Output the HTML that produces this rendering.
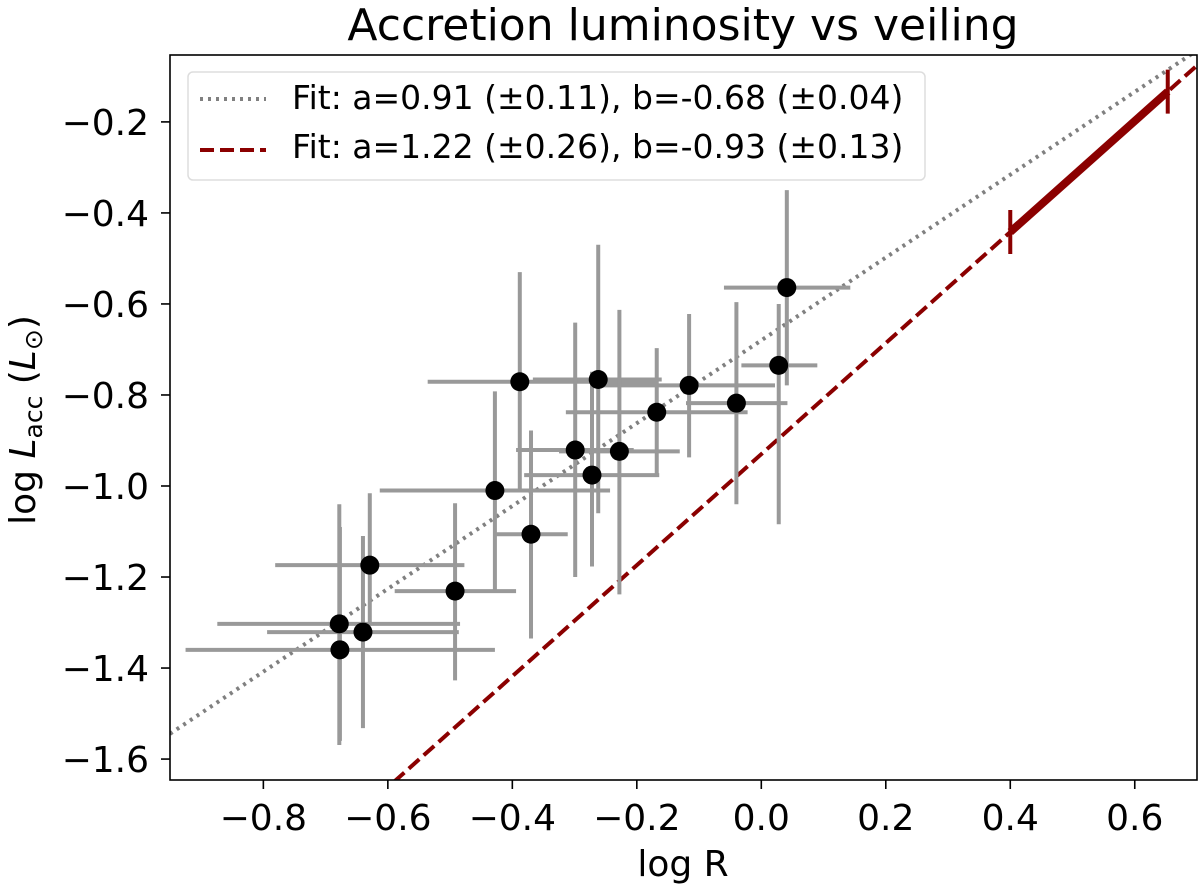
<!DOCTYPE html>
<html><head><meta charset="utf-8"><style>
html,body{margin:0;padding:0;width:1200px;height:896px;overflow:hidden;background:#fff;font-family:"DejaVu Sans","Liberation Sans",sans-serif}
svg{display:block}
</style></head><body>
<svg id="chart" width="1200" height="896" xmlns="http://www.w3.org/2000/svg">
<text x="683" y="40" font-size="44" text-anchor="middle">Accretion luminosity vs veiling</text>
<g id="plot"></g>
<rect x="170" y="55" width="1027" height="725" fill="none" stroke="#000" stroke-width="1.6"/>
<text x="683" y="876" font-size="36" text-anchor="middle">log R</text>
<text transform="translate(35,420) rotate(-90)" font-size="36" text-anchor="middle">log <tspan font-style="italic">L</tspan><tspan font-size="25" dy="7">acc</tspan><tspan dy="-7"> (</tspan><tspan font-style="italic">L</tspan><tspan font-size="25" dy="7">⊙</tspan><tspan dy="-7">)</tspan></text>
<g>
<rect x="188" y="72" width="737" height="108" rx="5" fill="#fff" fill-opacity="0.85" stroke="#ddd" stroke-width="1.5"/>
<line x1="200" y1="99" x2="266" y2="99" stroke="#808080" stroke-width="4" stroke-dasharray="3,5"/>
<text x="292" y="109" font-size="33">Fit: a=0.91 (±0.11), b=-0.68 (±0.04)</text>
<line x1="200" y1="150" x2="266" y2="150" stroke="#8b0000" stroke-width="4" stroke-dasharray="14,6"/>
<text x="292" y="158" font-size="33">Fit: a=1.22 (±0.26), b=-0.93 (±0.13)</text>
</g>
</svg>
<script>
const xs=[0.041,0.028,-0.040,-0.116,-0.168,-0.262,-0.388,-0.299,-0.272,-0.228,-0.428,-0.370,-0.492,-0.629,-0.678,-0.640,-0.677];
const ys=[-0.564,-0.735,-0.818,-0.779,-0.838,-0.766,-0.771,-0.921,-0.976,-0.924,-1.010,-1.106,-1.231,-1.174,-1.303,-1.321,-1.360];
const xlo=[-0.060,-0.032,-0.121,-0.261,-0.314,-0.367,-0.536,-0.394,-0.381,-0.325,-0.613,-0.426,-0.589,-0.781,-0.874,-0.794,-0.925];
const xhi=[0.143,0.090,0.042,0.022,-0.022,-0.160,-0.166,-0.205,-0.164,-0.131,-0.243,-0.311,-0.394,-0.477,-0.484,-0.486,-0.428];
const ylo=[-0.779,-1.084,-1.04,-0.937,-0.976,-1.06,-1.01,-1.20,-1.177,-1.238,-1.229,-1.335,-1.427,-1.302,-1.569,-1.532,-1.56];
const yhi=[-0.35,-0.60,-0.596,-0.622,-0.697,-0.47,-0.53,-0.641,-0.749,-0.613,-0.792,-0.878,-1.038,-1.016,-1.04,-1.11,-1.09];
const xticks=[-0.8,-0.6,-0.4,-0.2,0.0,0.2,0.4,0.6];
const xtickLabels=["−0.8","−0.6","−0.4","−0.2","0.0","0.2","0.4","0.6"];
const yticks=[-0.2,-0.4,-0.6,-0.8,-1.0,-1.2,-1.4,-1.6];
const ytickLabels=["−0.2","−0.4","−0.6","−0.8","−1.0","−1.2","−1.4","−1.6"];
const fitDotted=[0.91,-0.68];
const fitDashed=[1.22,-0.93];
const segX=[0.40,0.653];
const XMIN=-0.95,XMAX=0.70,YMIN=-1.646,YMAX=-0.053;
const L=170,R=1197,T=55,B=780;
const sx=v=>L+(v-XMIN)/(XMAX-XMIN)*(R-L);
const sy=v=>B-(v-YMIN)/(YMAX-YMIN)*(B-T);
const NS="http://www.w3.org/2000/svg";
const svg=document.getElementById('chart');
const g=document.getElementById('plot');
function mk(tag,at,parent){const e=document.createElementNS(NS,tag);for(const k in at)e.setAttribute(k,at[k]);(parent||g).appendChild(e);return e;}
const defs=mk('defs',{});const cp=mk('clipPath',{id:'clip'},defs);mk('rect',{x:L,y:T,width:R-L,height:B-T},cp);
const inner=mk('g',{'clip-path':'url(#clip)'});
xticks.forEach((v,i)=>{
 const t=mk('line',{x1:sx(v),x2:sx(v),y1:B,y2:B+9,stroke:'#000','stroke-width':1.6},svg);
 
 
 const l=mk('text',{x:sx(v),y:830,'font-size':36,'text-anchor':'middle'},svg);l.textContent=xtickLabels[i];
 
 
});
yticks.forEach((v,i)=>{
 const t=mk('line',{x1:L-9,x2:L,y1:sy(v),y2:sy(v),stroke:'#000','stroke-width':1.6},svg);
 
 
 const l=mk('text',{x:149,y:sy(v)+13,'font-size':36,'text-anchor':'end'},svg);l.textContent=ytickLabels[i];
 
 
});
const d1=mk('line',{x1:sx(XMIN),y1:sy(fitDotted[0]*XMIN+fitDotted[1]),x2:sx(XMAX),y2:sy(fitDotted[0]*XMAX+fitDotted[1]),stroke:'#808080','stroke-width':4,'stroke-dasharray':'3,5'},inner);


const d2=mk('line',{x1:sx(XMIN),y1:sy(fitDashed[0]*XMIN+fitDashed[1]),x2:sx(XMAX),y2:sy(fitDashed[0]*XMAX+fitDashed[1]),stroke:'#8b0000','stroke-width':4,'stroke-dasharray':'14,6'},inner);


xs.forEach((x,i)=>{
 const h=mk('line',{x1:sx(xlo[i]),x2:sx(xhi[i]),y1:sy(ys[i]),y2:sy(ys[i]),stroke:'#999','stroke-width':4},inner);
 
 
 const v=mk('line',{x1:sx(x),x2:sx(x),y1:sy(ylo[i]),y2:sy(yhi[i]),stroke:'#999','stroke-width':4},inner);
 
 
});
xs.forEach((x,i)=>{
 const c=mk('circle',{cx:sx(x),cy:sy(ys[i]),r:9.5,fill:'#000'},inner);
 
 
});
const y0=fitDashed[0]*segX[0]+fitDashed[1],y1=fitDashed[0]*segX[1]+fitDashed[1];
const s=mk('line',{x1:sx(segX[0]),y1:sy(y0),x2:sx(segX[1]),y2:sy(y1),stroke:'#8b0000','stroke-width':8},inner);


segX.forEach((x,i)=>{
 const yy=sy(i?y1:y0);
 const c=mk('line',{x1:sx(x),x2:sx(x),y1:yy-22,y2:yy+22,stroke:'#8b0000','stroke-width':4},inner);
 
 
});
</script>
</body></html>
